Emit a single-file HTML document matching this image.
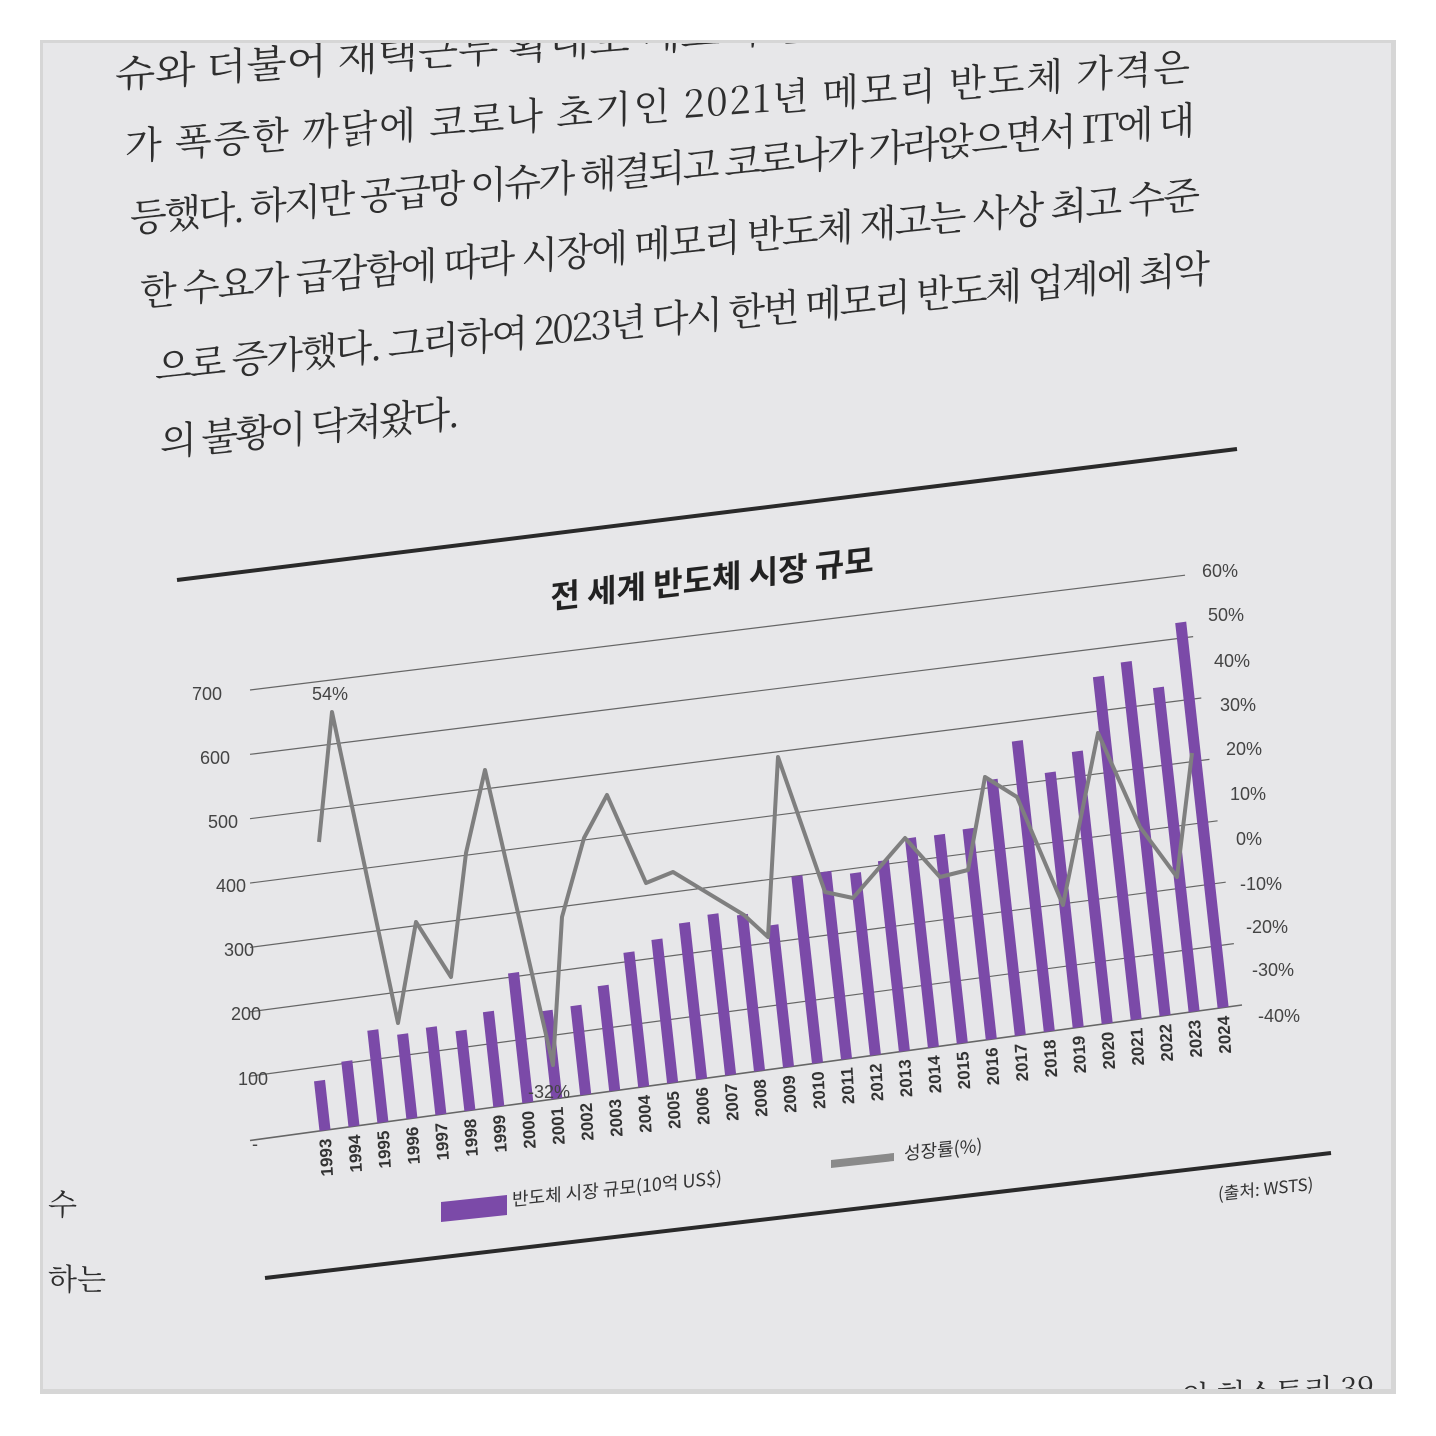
<!DOCTYPE html>
<html><head><meta charset="utf-8">
<style>
html,body{margin:0;padding:0;background:#fff;}
svg{display:block;}
text{font-family:"Liberation Sans","Noto Sans CJK KR",sans-serif;}
.body{font-family:"Noto Serif CJK SC","Liberation Serif","Noto Sans CJK KR",serif;font-size:38px;fill:#2e2e2e;}
.ax{font-size:18px;fill:#444;font-family:"Liberation Sans Narrow","Liberation Sans","Noto Sans CJK KR",sans-serif;}
.yr{font-size:17px;fill:#333;font-weight:bold;font-family:"Liberation Sans Narrow","Liberation Sans",sans-serif;}
</style></head>
<body>
<svg id="s" width="1436" height="1436" viewBox="0 0 1436 1436" xmlns="http://www.w3.org/2000/svg">
<defs><clipPath id="ph"><rect x="43" y="43" width="1348" height="1346"/></clipPath></defs>
<rect x="0" y="0" width="1436" height="1436" fill="#ffffff"/>
<rect x="40" y="40" width="1356" height="1354" fill="#d6d6d6"/>
<rect x="43" y="43" width="1348" height="1346" fill="#e7e7e9"/>
<g clip-path="url(#ph)">
<text class="body" transform="translate(115,88) skewY(-4)" textLength="1040" lengthAdjust="spacingAndGlyphs">슈와 더불어 재택근무 확대로 메모리 반도체 가격은 수요가</text>
<text class="body" transform="translate(125,160) skewY(-4.3)" textLength="1065" lengthAdjust="spacing">가 폭증한 까닭에 코로나 초기인 2021년 메모리 반도체 가격은</text>
<text class="body" transform="translate(130,232) skewY(-5.3)" textLength="1065" lengthAdjust="spacing">등했다. 하지만 공급망 이슈가 해결되고 코로나가 가라앉으면서 IT에 대</text>
<text class="body" transform="translate(140,306) skewY(-5.3)" textLength="1060" lengthAdjust="spacing">한 수요가 급감함에 따라 시장에 메모리 반도체 재고는 사상 최고 수준</text>
<text class="body" transform="translate(155,381) skewY(-5.4)" textLength="1055" lengthAdjust="spacing">으로 증가했다. 그리하여 2023년 다시 한번 메모리 반도체 업계에 최악</text>
<text class="body" transform="translate(160,456) skewY(-5.6)" textLength="300" lengthAdjust="spacing">의 불황이 닥쳐왔다.</text>
<text class="body" transform="translate(48,1215)" style="font-size:30px">수</text>
<text class="body" transform="translate(48,1290)" style="font-size:30px">하는</text>
<text class="body" transform="translate(1180,1408) skewY(-3)" style="font-size:30px">의 히스토리 39</text>
</g>
<line x1="177" y1="580" x2="1237" y2="449" stroke="#2a2a2a" stroke-width="4"/>
<line x1="265" y1="1278" x2="1331" y2="1153" stroke="#2a2a2a" stroke-width="4"/>
<text transform="translate(712,590) skewY(-6.6)" text-anchor="middle" style="font-size:32px;font-weight:bold;fill:#222;font-family:'Noto Sans CJK KR',sans-serif">전 세계 반도체 시장 규모</text>
<g id="grid"></g>
<g id="bars"></g>
<polyline fill="none" stroke="#7f7f7f" stroke-width="4" stroke-linejoin="round" points="319,842 332,712 398,1023 416,922 451,977 466,853 485,770 553,1065 562,917 584,838 607,795 646,883 673,872 744,915 768,937 778,757 825,892 853,898 905,838 940,877 968,870 985,777 1017,797 1063,905 1098,733 1140,827 1177,877 1192,753"/>
<text class="ax" x="312" y="700">54%</text>
<text class="ax" x="528" y="1098">-32%</text>
<g id="labels"></g>
<polygon points="441,1202 507,1195 507,1215 441,1222" fill="#7b4aa8"/>
<text transform="translate(512,1206) skewY(-6)" style="font-size:18px;fill:#333;font-family:'Noto Sans CJK KR',sans-serif">반도체 시장 규모(10억 US$)</text>
<polygon points="831,1160 894,1153 894,1161 831,1168" fill="#8a8a8a"/>
<text transform="translate(904,1160) skewY(-6)" style="font-size:18px;fill:#333;font-family:'Noto Sans CJK KR',sans-serif">성장률(%)</text>
<text transform="translate(1218,1200) skewY(-6)" style="font-size:17px;fill:#333;font-family:'Noto Sans CJK KR',sans-serif">(출처: WSTS)</text>
</svg>
<script>
var NS="http://www.w3.org/2000/svg";
function el(p,t,a,txt){var e=document.createElementNS(NS,t);for(var k in a)e.setAttribute(k,a[k]);if(txt!==undefined)e.textContent=txt;document.getElementById(p).appendChild(e);return e;}
for(var v=0;v<=700;v+=100){
 var ly=1140.5-0.6436*v, rx=1242-0.0814*v, ry=1005-0.614*v;
 el("grid","line",{x1:250,y1:ly,x2:rx,y2:ry,stroke:"#666","stroke-width":v==0?1.6:1.2});
}
var left=[["700",192,700],["600",200,764],["500",208,828],["400",216,892],["300",224,956],["200",231,1020],["100",238,1085],["-",252,1150]];
left.forEach(function(a){el("labels","text",{"class":"ax",x:a[1],y:a[2]},a[0]);});
var right=[["60%",1202,577],["50%",1208,621],["40%",1214,667],["30%",1220,711],["20%",1226,755],["10%",1230,800],["0%",1236,845],["-10%",1240,890],["-20%",1246,933],["-30%",1252,976],["-40%",1258,1022]];
right.forEach(function(a){el("labels","text",{"class":"ax",x:a[1],y:a[2]},a[0]);});
var data=[77.3,101.9,144.4,132,137.2,125.6,149.4,204.4,139,140.7,166.4,213,227.5,247.7,255.6,248.6,226.3,298.3,299.5,291.6,305.6,335.8,335.2,338.9,412.2,468.8,412.3,440.4,555.9,574.1,526.9,627];
function y0(x){return 1140.5-0.1366*(x-250);}
function sc(x){return 0.6436-(x-250)*0.0297/992;}
for(var i=0;i<32;i++){
 var xb=325+28.97*i, h=data[i]*sc(xb), L=0.11*h, w=5.5;
 var p=[[xb-w,y0(xb-w)],[xb+w,y0(xb+w)],[xb+w-L,y0(xb+w)-h],[xb-w-L,y0(xb-w)-h]];
 el("bars","polygon",{points:p.map(function(q){return q[0].toFixed(1)+","+q[1].toFixed(1)}).join(" "),fill:"#7b4aa8"});
 var ty=y0(xb)+8;
 el("labels","text",{"class":"yr","text-anchor":"end",transform:"translate("+(xb+6).toFixed(1)+","+ty.toFixed(1)+") rotate(-93)"},String(1993+i));
}
</script>
</body></html>
